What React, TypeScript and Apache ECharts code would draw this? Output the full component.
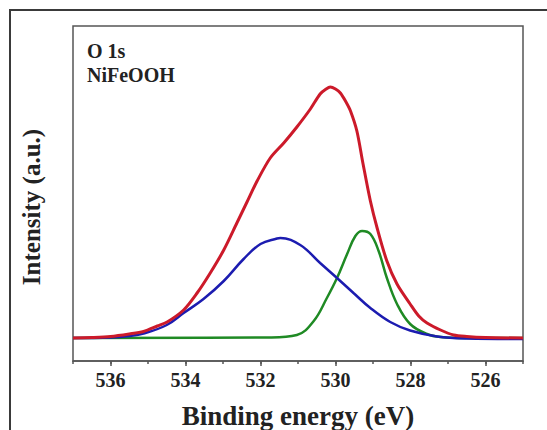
import React, { useEffect, useRef } from "react";
import * as echarts from "echarts";

// Binding energy (eV) / intensity (a.u.)
const redEnergy = [537.0, 536.5, 536.0, 535.5, 535.12, 534.75, 534.49, 534.05, 533.69, 533.34, 532.98, 532.63, 532.36, 532.09, 531.74, 531.38, 531.03, 530.67, 530.41, 530.25, 530.14, 530.0, 529.87, 529.72, 529.6, 529.43, 529.27, 529.07, 528.89, 528.63, 528.36, 528.01, 527.78, 527.56, 527.2, 526.85, 526.5, 526.0, 525.0];
const redValues = [0, 0.5, 1.5, 4, 6.5, 12, 16, 28, 45, 65, 88, 115, 136, 157, 180, 195, 211, 229, 244, 249, 251, 249, 245, 236, 227, 207, 175, 137, 110, 77, 54, 34, 22, 15, 8, 3, 1.5, 0.5, 0];

const blueEnergy = [537.0, 536.0, 535.5, 535.12, 534.5, 534.05, 533.52, 532.98, 532.45, 532.0, 531.56, 531.47, 530.94, 530.41, 529.96, 529.52, 529.07, 528.54, 528.01, 527.29, 526.5, 525.0];
const blueValues = [0, 0.5, 2, 4.5, 13, 25, 39, 57, 79, 94, 99.5, 100, 93, 75, 60, 45, 30, 16, 7.5, 1.5, -0.5, -1];

const greenEnergy = [537.0, 531.74, 531.03, 530.58, 530.23, 529.96, 529.69, 529.47, 529.29, 529.07, 528.85, 528.63, 528.36, 528.01, 527.56, 527.2, 526.5, 525.0];
const greenValues = [0, 0.5, 3, 17, 40, 60, 84, 102, 107, 104, 87, 60, 34, 14, 4, 1, 0, 0];

const majorTicks = [536, 534, 532, 530, 528, 526];

const xTitle = "Binding energy (eV)";
const yTitle = "Intensity (a.u.)";
const labelLines = ["O 1s", "NiFeOOH"];

const zip = (xs: number[], ys: number[]) => xs.map((x, i) => [x, ys[i]]);

const FONT = "Liberation Serif";
const AXIS_COLOR = "#555555";

export default function App() {
  const ref = useRef<HTMLDivElement>(null);
  useEffect(() => {
    if (!ref.current) return;
    const chart = echarts.init(ref.current, undefined, { renderer: "svg" });
    const textStyle = (size: number) => ({
      fontFamily: FONT,
      fontWeight: "bold",
      fontSize: size,
      fill: "#222222",
    });
    const gridRect = { left: 73, top: 26, width: 450, height: 335 };
    chart.setOption({
      animation: false,
      backgroundColor: "#ffffff",
      grid: [
        { ...gridRect, show: true, borderColor: AXIS_COLOR, borderWidth: 1.5, containLabel: false },
        { ...gridRect, show: false, containLabel: false },
      ],
      xAxis: [
        {
          type: "value",
          gridIndex: 0,
          min: 525,
          max: 537,
          interval: 1,
          inverse: true,
          position: "bottom",
          axisLine: { show: true, onZero: false, lineStyle: { color: AXIS_COLOR, width: 1.5 } },
          axisTick: { show: true, inside: false, length: 3, lineStyle: { color: AXIS_COLOR, width: 1.5 } },
          axisLabel: {
            show: true,
            margin: 9,
            showMinLabel: true,
            showMaxLabel: true,
            formatter: (v: number) => (majorTicks.indexOf(v) >= 0 ? String(v) : ""),
            fontFamily: FONT,
            fontWeight: "bold",
            fontSize: 20,
            color: "#222222",
          },
          splitLine: { show: false },
        },
        {
          type: "value",
          gridIndex: 1,
          min: 525,
          max: 537,
          inverse: true,
          position: "bottom",
          axisLine: { show: false, onZero: false },
          axisTick: { show: true, inside: false, length: 5, customValues: majorTicks, lineStyle: { color: AXIS_COLOR, width: 1.5 } },
          axisLabel: { show: false },
          splitLine: { show: false },
        },
      ],
      yAxis: [
        { type: "value", gridIndex: 0, min: -23, max: 312, show: false, splitLine: { show: false } },
        { type: "value", gridIndex: 1, min: -23, max: 312, show: false, splitLine: { show: false } },
      ],
      series: [
        {
          type: "line",
          xAxisIndex: 0,
          yAxisIndex: 0,
          data: zip(greenEnergy, greenValues),
          smooth: 0.4,
          showSymbol: false,
          lineStyle: { color: "#1f8a24", width: 2.5 },
          z: 2,
        },
        {
          type: "line",
          xAxisIndex: 0,
          yAxisIndex: 0,
          data: zip(blueEnergy, blueValues),
          smooth: 0.4,
          showSymbol: false,
          lineStyle: { color: "#1c1cb0", width: 2.5 },
          z: 3,
        },
        {
          type: "line",
          xAxisIndex: 0,
          yAxisIndex: 0,
          data: zip(redEnergy, redValues),
          smooth: 0.3,
          showSymbol: false,
          lineStyle: { color: "#cc1a2a", width: 3 },
          z: 4,
        },
      ],
      graphic: [
        {
          type: "rect",
          shape: { x: 10, y: 10, width: 700, height: 600 },
          style: { fill: "none", stroke: "#3a3a3a", lineWidth: 2 },
          silent: true,
        },
        {
          type: "text",
          x: 87,
          y: 51,
          style: { text: labelLines[0], ...textStyle(20), verticalAlign: "middle", align: "left" },
        },
        {
          type: "text",
          x: 87,
          y: 75,
          style: { text: labelLines[1], ...textStyle(20), verticalAlign: "middle", align: "left" },
        },
        {
          type: "text",
          x: 298,
          y: 416,
          style: { text: xTitle, ...textStyle(27), verticalAlign: "middle", align: "center" },
        },
        {
          type: "text",
          x: 31,
          y: 207,
          rotation: Math.PI / 2,
          style: { text: yTitle, ...textStyle(25), verticalAlign: "middle", align: "center" },
        },
      ],
    });
    return () => chart.dispose();
  }, []);
  return (
    <div
      ref={ref}
      style={{ position: "fixed", left: 0, top: 0, width: 547, height: 430, background: "#fff" }}
    />
  );
}
